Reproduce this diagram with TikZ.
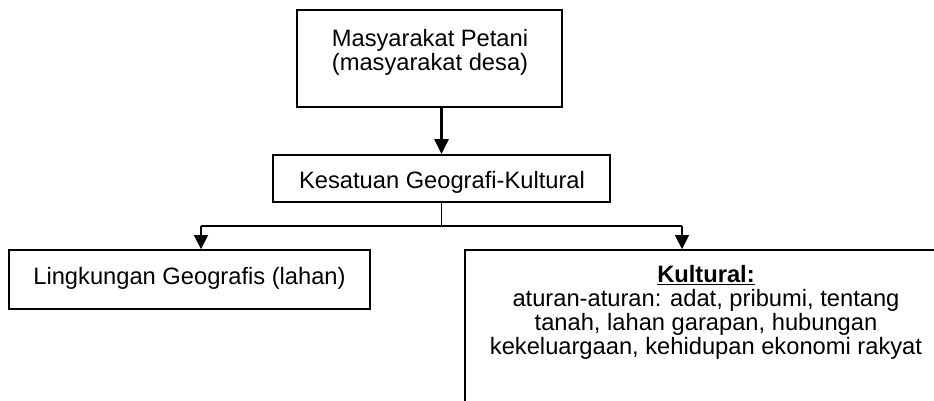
\documentclass[tikz,border=0pt]{standalone}
\usepackage{fontspec}
\setmainfont{Liberation Sans}
\usetikzlibrary{arrows.meta}
\begin{document}
\begin{tikzpicture}[x=1pt,y=-1pt,
  box/.style={draw=black,line width=1.8pt,inner sep=0pt,minimum width=#1},
  txt/.style={inner sep=0pt,align=center,font=\fontsize{23.7}{23.7}\selectfont},
  conn/.style={draw=black,line width=1.5pt},
  arr/.style={conn,-{Triangle[length=14pt,width=14pt]}},
  bigarr/.style={draw=black,line width=2.6pt,-{Triangle[length=15pt,width=14pt]}}]
\useasboundingbox (0,0) rectangle (934,400);
\clip (0,0) rectangle (934,400);
\fill[white] (0,0) rectangle (934,400);
% boxes
\node[box=265pt,minimum height=97pt] (top) at (429.5,58.5) {};
\node[box=337pt,minimum height=47pt] (kes) at (441.5,178.5) {};
\node[box=361pt,minimum height=59pt] (ling) at (189.5,279.5) {};
\node[box=482pt,minimum height=170pt] (kul) at (706,335) {};
% texts (base anchor = baseline of last line)
\node[txt,anchor=base] (toptxt) at (430,70) {Masyarakat Petani\\(masyarakat desa)};
\node[txt,anchor=base] (kestxt) at (442,188) {Kesatuan Geografi-Kultural};
\node[txt,anchor=base] (lingtxt) at (189.5,284) {Lingkungan Geografis (lahan)};
\node[txt,anchor=base] (kultxt) at (706,354) {\underline{\textbf{Kultural:}}\\aturan-aturan: adat, pribumi, tentang\\tanah, lahan garapan, hubungan\\kekeluargaan, kehidupan ekonomi rakyat};
% connectors
\coordinate (hl) at (201,226);
\coordinate (hr) at (682,226);
\draw[bigarr] (kes.north |- top.south) -- (kes.north);
\draw[conn] (kes.south) -- (kes.south |- hl);
\draw[conn] (hl) -- (hr);
\draw[arr] (hl) -- (hl |- ling.north);
\draw[arr] (hr) -- (hr |- kul.north);
\end{tikzpicture}
\end{document}
